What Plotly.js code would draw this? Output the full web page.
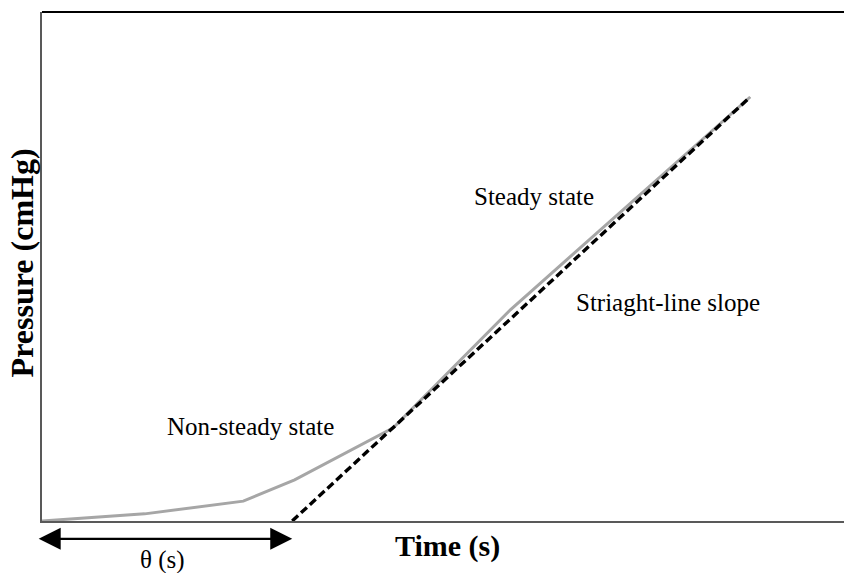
<!DOCTYPE html>
<html>
<head>
<meta charset="utf-8">
<script src="https://cdn.plot.ly/plotly-3.0.1.min.js"></script>
<style>html,body{margin:0;padding:0;background:#fff;}#chart{width:844px;height:573px;}</style>
</head>
<body>
<div id="chart"></div>
<script>
// Measured curve (arbitrary units: time 0-100, pressure 0-100)
const measuredTime = [0, 12.8, 25.1, 31.5, 43.8, 58.4, 88.3];
const measuredPressure = [0, 1.4, 3.9, 8.1, 18.3, 41.5, 83.3];
// Straight-line fit of the steady-state part
const fitTime = [31.2, 88.3];
const fitPressure = [0, 83.3];
// Lag time theta
const lagStart = -0.6;
const lagEnd = 31.2;

const font = 'Liberation Serif, Times New Roman, serif';

const traces = [
  {x: measuredTime, y: measuredPressure, mode: 'lines', type: 'scatter',
   line: {color: '#a6a6a6', width: 3}, hoverinfo: 'skip', cliponaxis: false},
  {x: fitTime, y: fitPressure, mode: 'lines', type: 'scatter',
   line: {color: '#000000', width: 3.4, dash: '8px,4px'}, hoverinfo: 'skip', cliponaxis: false}
];

const txt = (x, y, xref, yref, text, size, extra) => Object.assign({
  x: x, y: y, xref: xref, yref: yref, text: text, showarrow: false,
  xanchor: 'center', yanchor: 'middle', font: {family: font, size: size, color: '#000'}
}, extra || {});

const layout = {
  width: 844, height: 573,
  margin: {l: 42, r: 0, t: 12, b: 52},
  paper_bgcolor: '#ffffff', plot_bgcolor: '#ffffff',
  showlegend: false,
  font: {family: font, color: '#000', size: 25},
  xaxis: {range: [0, 100], showgrid: false, zeroline: false, showticklabels: false, ticks: '',
    showline: true, linecolor: '#595959', linewidth: 2},
  yaxis: {range: [0, 100], showgrid: false, zeroline: false, showticklabels: false, ticks: '',
    showline: true, linecolor: '#595959', linewidth: 2},
  shapes: [
    {type: 'line', xref: 'paper', yref: 'paper', x0: 0, x1: 1, y0: 1, y1: 1,
     line: {color: '#000', width: 2}}
  ],
  annotations: [
    txt(50.6, -0.049, 'x', 'paper', '<b>Time (s)</b>', 30),
    txt(-0.025, 0.508, 'paper', 'paper', '<b>Pressure (cmHg)</b>', 32, {textangle: -90}),
    {x: lagEnd, y: -0.035, xref: 'x', yref: 'paper', axref: 'x', ax: lagStart, ayref: 'pixel', ay: 0,
     showarrow: true, arrowhead: 2, startarrowhead: 2, arrowside: 'end+start', arrowsize: 2, startarrowsize: 2,
     arrowwidth: 2.2, arrowcolor: '#000', text: ''},
    txt(15, -0.077, 'x', 'paper', 'θ (s)', 25),
    txt(26, 18.5, 'x', 'y', 'Non-steady state', 25),
    txt(61.4, 63.7, 'x', 'y', 'Steady state', 25),
    txt(78, 43.0, 'x', 'y', 'Striaght-line slope', 25)
  ]
};

Plotly.newPlot('chart', traces, layout, {staticPlot: true, displayModeBar: false});
</script>
</body>
</html>
